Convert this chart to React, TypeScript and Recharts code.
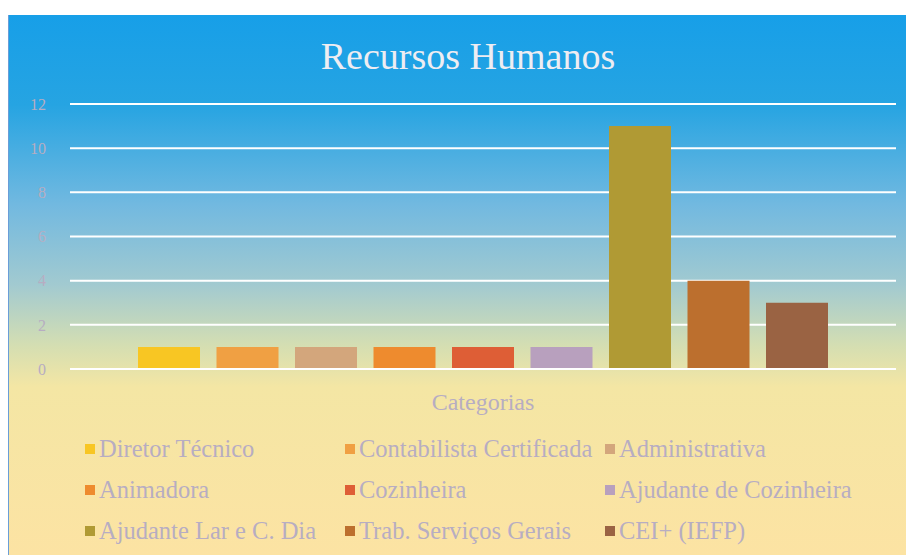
import React from "react";
import { BarChart, Bar, XAxis, YAxis, CartesianGrid, Legend } from "recharts";

const categories = ["Categorias"];

const roles = [
  "Diretor Técnico",
  "Contabilista Certificada",
  "Administrativa",
  "Animadora",
  "Cozinheira",
  "Ajudante de Cozinheira",
  "Ajudante Lar e C. Dia",
  "Trab. Serviços Gerais",
  "CEI+ (IEFP)",
];

const counts = [1, 1, 1, 1, 1, 1, 11, 4, 3];

const colors = [
  "#F8C623",
  "#F0A043",
  "#D3A67C",
  "#EE8B2E",
  "#DE5E36",
  "#B8A0BE",
  "#B09A34",
  "#BC6F2E",
  "#9A6343",
];

const yTicks = [0, 2, 4, 6, 8, 10, 12];

const data = categories.map((name) => {
  const row: Record<string, string | number> = { name };
  roles.forEach((r, i) => {
    row[r] = counts[i];
  });
  return row;
});

const serif = "'Liberation Serif', 'DejaVu Serif', serif";
const textColor = "#B7ADC2";

const LegendGrid = () => (
  <div
    style={{
      display: "grid",
      gridTemplateColumns: "260px 260px auto",
      paddingLeft: 76,
      fontFamily: serif,
      fontSize: 24.5,
      color: textColor,
    }}
  >
    {roles.map((r, i) => (
      <div key={r} style={{ height: 41, display: "flex", alignItems: "center", whiteSpace: "nowrap" }}>
        <span
          style={{
            display: "inline-block",
            width: 10,
            height: 10,
            background: colors[i],
            marginRight: 4,
          }}
        />
        {r}
      </div>
    ))}
  </div>
);

export default function App() {
  return (
    <div
      style={{
        position: "relative",
        marginTop: 7,
        width: 906,
        height: 540,
        background:
          "linear-gradient(to bottom, #179FE8 0px, #26A4E2 90px, #72B9E0 190px, #A2CAD0 270px, #D4DEB2 330px, #F4E6A4 372px, #FCE3A3 540px)",
        borderLeft: "1px solid #6A9ED8",
        boxSizing: "border-box",
      }}
    >
      <div
        style={{
          position: "absolute",
          top: 19,
          left: 0,
          width: 918,
          textAlign: "center",
          fontFamily: serif,
          fontSize: 38,
          color: "#EEEDF2",
        }}
      >
        Recursos Humanos
      </div>
      <BarChart
        width={905}
        height={540}
        data={data}
        margin={{ top: 89, right: 18, left: 0, bottom: 4 }}
        barGap={16.5}
        barSize={62}
      >
        <CartesianGrid vertical={false} stroke="#FFFFFF" strokeWidth={2} />
        <XAxis
          dataKey="name"
          height={59}
          axisLine={{ stroke: "#FFFFFF", strokeWidth: 2 }}
          tickLine={false}
          tickMargin={18}
          tick={{ fill: textColor, fontFamily: serif, fontSize: 24 }}
        />
        <YAxis
          width={61}
          domain={[0, 12]}
          ticks={yTicks}
          axisLine={false}
          tickLine={false}
          tickMargin={18}
          tick={{ fill: textColor, fontFamily: serif, fontSize: 16 }}
        />
        <Legend verticalAlign="bottom" content={() => <LegendGrid />} />
        {roles.map((r, i) => (
          <Bar key={r} dataKey={r} fill={colors[i]} isAnimationActive={false} />
        ))}
      </BarChart>
    </div>
  );
}
